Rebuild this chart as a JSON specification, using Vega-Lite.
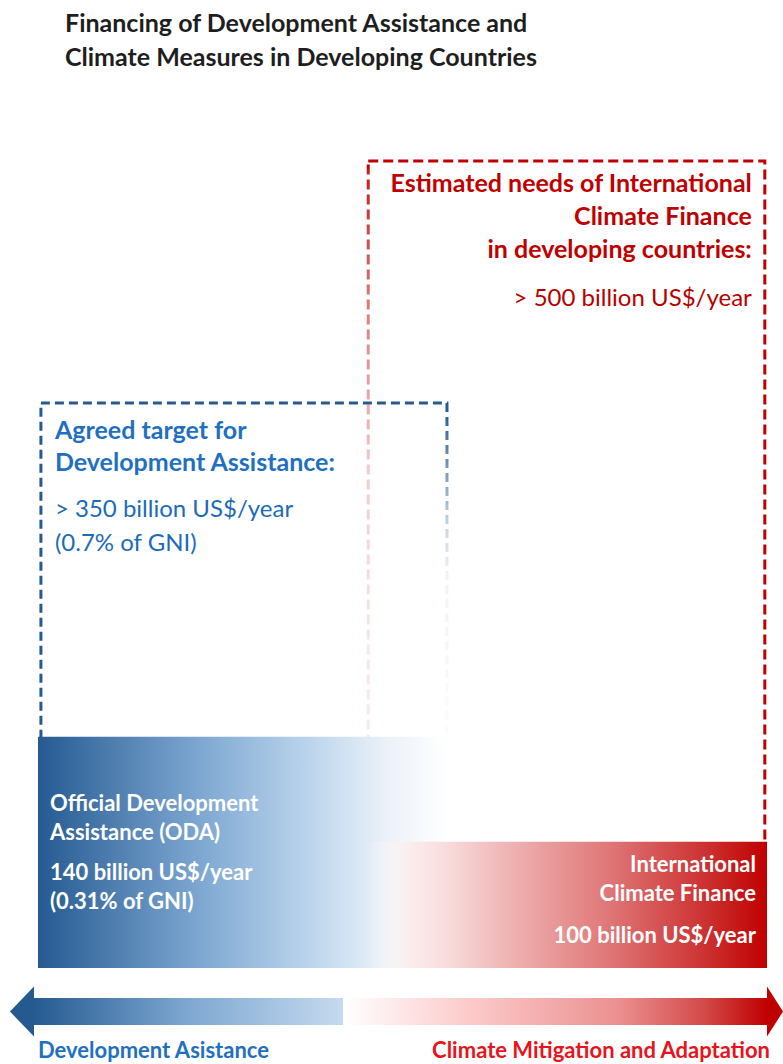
{
  "$schema": "https://vega.github.io/schema/vega-lite/v6.json",
  "width": 729,
  "height": 807,
  "autosize": {"type": "none"},
  "padding": {"left": 38, "right": 16, "top": 161, "bottom": 96},
  "background": "#ffffff",
  "config": {"view": {"stroke": null}, "text": {"font": "Lato"}},
  "title": {
    "text": ["Financing of Development Assistance and", "Climate Measures in Developing Countries"],
    "anchor": "start",
    "frame": "group",
    "orient": "top",
    "offset": 89,
    "dx": 27,
    "font": "Lato",
    "fontSize": 25,
    "fontWeight": "bold",
    "color": "#1e1e1e",
    "lineHeight": 34
  },
  "datasets": {
    "boxes": [
      {"box": "Agreed target for Development Assistance", "heading": "Agreed target for\nDevelopment Assistance:", "amount": "> 350 billion US$/year\n(0.7% of GNI)", "level": 350, "current": 142, "start": 0.004, "end": 0.561},
      {"box": "Estimated needs of International Climate Finance", "heading": "Estimated needs of International\nClimate Finance\nin developing countries:", "amount": "> 500 billion US$/year", "level": 500, "current": 77, "start": 0.453, "end": 0.997}
    ],
    "bars": [
      {"bar": "Official Development Assistance (ODA)", "heading": "Official Development\nAssistance (ODA)", "amount": "140 billion US$/year\n(0.31% of GNI)", "level": 142, "start": 0, "end": 0.56},
      {"bar": "International Climate Finance", "heading": "International\nClimate Finance", "amount": "100 billion US$/year", "level": 77, "start": 0.45, "end": 1}
    ],
    "arrows": [
      {"side": "Development Asistance", "start": -0.0055, "end": 0.4184},
      {"side": "Climate Mitigation and Adaptation", "start": 0.4184, "end": 1}
    ]
  },
  "layer": [
    {
      "data": {"name": "boxes"},
      "transform": [{"filter": "datum.level == 500"}],
      "mark": {"type": "rect", "filled": false, "color": "#c00000", "strokeWidth": 3, "strokeDash": [10, 5]},
      "encoding": {
        "x": {"field": "start", "type": "quantitative", "axis": null, "scale": {"domain": [0, 1], "nice": false, "zero": false}},
        "x2": {"field": "end"},
        "y": {"field": "level", "type": "quantitative", "axis": null, "scale": {"domain": [0, 500], "nice": false, "zero": false}},
        "y2": {"field": "current"}
      }
    },
    {
      "data": {"name": "boxes"},
      "transform": [{"filter": "datum.level == 500"}],
      "mark": {
        "type": "rect", "xOffset": -7, "x2Offset": 7, "yOffset": 8, "y2Offset": 3,
        "color": {"gradient": "linear", "x1": 0, "y1": 0, "x2": 0, "y2": 1, "stops": [
          {"offset": 0, "color": "rgba(255,255,255,0.1)"},
          {"offset": 0.22, "color": "rgba(255,255,255,0.5)"},
          {"offset": 0.45, "color": "rgba(255,255,255,0.8)"},
          {"offset": 0.7, "color": "rgba(255,255,255,0.9)"},
          {"offset": 1, "color": "rgba(255,255,255,0.92)"}
        ]}
      },
      "encoding": {
        "x": {"field": "start", "type": "quantitative", "axis": null, "scale": {"domain": [0, 1], "nice": false, "zero": false}},
        "x2": {"field": "start"},
        "y": {"field": "level", "type": "quantitative", "axis": null, "scale": {"domain": [0, 500], "nice": false, "zero": false}},
        "y2": {"field": "current"}
      }
    },
    {
      "data": {"name": "boxes"},
      "transform": [{"filter": "datum.level == 350"}],
      "mark": {"type": "rect", "filled": false, "color": "#275b8f", "strokeWidth": 3, "strokeDash": [9, 5]},
      "encoding": {
        "x": {"field": "start", "type": "quantitative", "axis": null, "scale": {"domain": [0, 1], "nice": false, "zero": false}},
        "x2": {"field": "end"},
        "y": {"field": "level", "type": "quantitative", "axis": null, "scale": {"domain": [0, 500], "nice": false, "zero": false}},
        "y2": {"field": "current"}
      }
    },
    {
      "data": {"name": "boxes"},
      "transform": [{"filter": "datum.level == 350"}],
      "mark": {
        "type": "rect", "xOffset": -7, "x2Offset": 7, "yOffset": 8, "y2Offset": 3,
        "color": {"gradient": "linear", "x1": 0, "y1": 0, "x2": 0, "y2": 1, "stops": [
          {"offset": 0, "color": "rgba(255,255,255,0)"},
          {"offset": 0.14, "color": "rgba(255,255,255,0.3)"},
          {"offset": 0.35, "color": "rgba(255,255,255,0.75)"},
          {"offset": 0.5, "color": "rgba(255,255,255,0.93)"},
          {"offset": 1, "color": "rgba(255,255,255,0.98)"}
        ]}
      },
      "encoding": {
        "x": {"field": "end", "type": "quantitative", "axis": null, "scale": {"domain": [0, 1], "nice": false, "zero": false}},
        "x2": {"field": "end"},
        "y": {"field": "level", "type": "quantitative", "axis": null, "scale": {"domain": [0, 500], "nice": false, "zero": false}},
        "y2": {"field": "current"}
      }
    },
    {
      "data": {"name": "bars"},
      "transform": [{"filter": "datum.level == 142"}],
      "mark": {
        "type": "rect", "yOffset": -2,
        "color": {"gradient": "linear", "x1": 0, "y1": 0, "x2": 1, "y2": 0, "stops": [
          {"offset": 0, "color": "#255a91"},
          {"offset": 0.4, "color": "#7ea8d2"},
          {"offset": 0.65, "color": "#b8d2eb"},
          {"offset": 0.85, "color": "#eaf1f9"},
          {"offset": 1, "color": "#ffffff"}
        ]}
      },
      "encoding": {
        "x": {"field": "start", "type": "quantitative", "axis": null, "scale": {"domain": [0, 1], "nice": false, "zero": false}},
        "x2": {"field": "end"},
        "y": {"field": "level", "type": "quantitative", "axis": null, "scale": {"domain": [0, 500], "nice": false, "zero": false}},
        "y2": {"datum": 0}
      }
    },
    {
      "data": {"name": "bars"},
      "transform": [{"filter": "datum.level == 77"}],
      "mark": {
        "type": "rect", "yOffset": -2,
        "color": {"gradient": "linear", "x1": 0, "y1": 0, "x2": 1, "y2": 0, "stops": [
          {"offset": 0, "color": "rgba(255,255,255,0)"},
          {"offset": 0.12, "color": "rgba(251,234,234,0.95)"},
          {"offset": 0.2, "color": "#f8dcdc"},
          {"offset": 0.35, "color": "#efb5b5"},
          {"offset": 0.6, "color": "#e07878"},
          {"offset": 0.85, "color": "#cc3030"},
          {"offset": 1, "color": "#c00000"}
        ]}
      },
      "encoding": {
        "x": {"field": "start", "type": "quantitative", "axis": null, "scale": {"domain": [0, 1], "nice": false, "zero": false}},
        "x2": {"field": "end"},
        "y": {"field": "level", "type": "quantitative", "axis": null, "scale": {"domain": [0, 500], "nice": false, "zero": false}},
        "y2": {"datum": 0}
      }
    },
    {
      "data": {"name": "boxes"},
      "transform": [{"filter": "datum.level == 350"}],
      "mark": {"type": "text", "align": "left", "baseline": "alphabetic", "dx": 14, "dy": 36, "lineBreak": "\n", "lineHeight": 32, "font": "Lato", "fontSize": 25, "fontWeight": "bold", "color": "#1f70c0"},
      "encoding": {
        "x": {"field": "start", "type": "quantitative", "axis": null, "scale": {"domain": [0, 1], "nice": false, "zero": false}},
        "y": {"field": "level", "type": "quantitative", "axis": null, "scale": {"domain": [0, 500], "nice": false, "zero": false}},
        "text": {"field": "heading"}
      }
    },
    {
      "data": {"name": "boxes"},
      "transform": [{"filter": "datum.level == 350"}],
      "mark": {"type": "text", "align": "left", "baseline": "alphabetic", "dx": 14, "dy": 114, "lineBreak": "\n", "lineHeight": 34, "font": "Lato", "fontSize": 24, "fontWeight": "normal", "color": "#1d6bb8"},
      "encoding": {
        "x": {"field": "start", "type": "quantitative", "axis": null, "scale": {"domain": [0, 1], "nice": false, "zero": false}},
        "y": {"field": "level", "type": "quantitative", "axis": null, "scale": {"domain": [0, 500], "nice": false, "zero": false}},
        "text": {"field": "amount"}
      }
    },
    {
      "data": {"name": "boxes"},
      "transform": [{"filter": "datum.level == 500"}],
      "mark": {"type": "text", "align": "right", "baseline": "alphabetic", "dx": -13, "dy": 31, "lineBreak": "\n", "lineHeight": 33, "font": "Lato", "fontSize": 25, "fontWeight": "bold", "color": "#c00000"},
      "encoding": {
        "x": {"field": "end", "type": "quantitative", "axis": null, "scale": {"domain": [0, 1], "nice": false, "zero": false}},
        "y": {"field": "level", "type": "quantitative", "axis": null, "scale": {"domain": [0, 500], "nice": false, "zero": false}},
        "text": {"field": "heading"}
      }
    },
    {
      "data": {"name": "boxes"},
      "transform": [{"filter": "datum.level == 500"}],
      "mark": {"type": "text", "align": "right", "baseline": "alphabetic", "dx": -13, "dy": 145, "lineBreak": "\n", "lineHeight": 33, "font": "Lato", "fontSize": 24, "fontWeight": "normal", "color": "#b80000"},
      "encoding": {
        "x": {"field": "end", "type": "quantitative", "axis": null, "scale": {"domain": [0, 1], "nice": false, "zero": false}},
        "y": {"field": "level", "type": "quantitative", "axis": null, "scale": {"domain": [0, 500], "nice": false, "zero": false}},
        "text": {"field": "amount"}
      }
    },
    {
      "data": {"name": "bars"},
      "transform": [{"filter": "datum.level == 142"}],
      "mark": {"type": "text", "align": "left", "baseline": "alphabetic", "dx": 12, "dy": 72, "lineBreak": "\n", "lineHeight": 29, "font": "Lato", "fontSize": 22, "fontWeight": "bold", "color": "#ffffff"},
      "encoding": {
        "x": {"field": "start", "type": "quantitative", "axis": null, "scale": {"domain": [0, 1], "nice": false, "zero": false}},
        "y": {"field": "level", "type": "quantitative", "axis": null, "scale": {"domain": [0, 500], "nice": false, "zero": false}},
        "text": {"field": "heading"}
      }
    },
    {
      "data": {"name": "bars"},
      "transform": [{"filter": "datum.level == 142"}],
      "mark": {"type": "text", "align": "left", "baseline": "alphabetic", "dx": 12, "dy": 141, "lineBreak": "\n", "lineHeight": 29, "font": "Lato", "fontSize": 22, "fontWeight": "bold", "color": "#ffffff"},
      "encoding": {
        "x": {"field": "start", "type": "quantitative", "axis": null, "scale": {"domain": [0, 1], "nice": false, "zero": false}},
        "y": {"field": "level", "type": "quantitative", "axis": null, "scale": {"domain": [0, 500], "nice": false, "zero": false}},
        "text": {"field": "amount"}
      }
    },
    {
      "data": {"name": "bars"},
      "transform": [{"filter": "datum.level == 77"}],
      "mark": {"type": "text", "align": "right", "baseline": "alphabetic", "dx": -11, "dy": 28, "lineBreak": "\n", "lineHeight": 29, "font": "Lato", "fontSize": 22, "fontWeight": "bold", "color": "#ffffff"},
      "encoding": {
        "x": {"field": "end", "type": "quantitative", "axis": null, "scale": {"domain": [0, 1], "nice": false, "zero": false}},
        "y": {"field": "level", "type": "quantitative", "axis": null, "scale": {"domain": [0, 500], "nice": false, "zero": false}},
        "text": {"field": "heading"}
      }
    },
    {
      "data": {"name": "bars"},
      "transform": [{"filter": "datum.level == 77"}],
      "mark": {"type": "text", "align": "right", "baseline": "alphabetic", "dx": -11, "dy": 99, "lineBreak": "\n", "lineHeight": 29, "font": "Lato", "fontSize": 22, "fontWeight": "bold", "color": "#ffffff"},
      "encoding": {
        "x": {"field": "end", "type": "quantitative", "axis": null, "scale": {"domain": [0, 1], "nice": false, "zero": false}},
        "y": {"field": "level", "type": "quantitative", "axis": null, "scale": {"domain": [0, 500], "nice": false, "zero": false}},
        "text": {"field": "amount"}
      }
    },
    {
      "data": {"name": "arrows"},
      "transform": [{"filter": "datum.start < 0"}],
      "mark": {
        "type": "rect",
        "color": {"gradient": "linear", "x1": 0, "y1": 0, "x2": 1, "y2": 0, "stops": [
          {"offset": 0, "color": "#255a91"},
          {"offset": 0.5, "color": "#7ea8d2"},
          {"offset": 1, "color": "#c6daef"}
        ]}
      },
      "encoding": {
        "x": {"field": "start", "type": "quantitative", "axis": null, "scale": {"domain": [0, 1], "nice": false, "zero": false}},
        "x2": {"field": "end"},
        "y": {"datum": -18.6, "type": "quantitative", "axis": null, "scale": {"domain": [0, 500], "nice": false, "zero": false}},
        "y2": {"datum": -35.3}
      }
    },
    {
      "data": {"name": "arrows"},
      "transform": [{"filter": "datum.start > 0"}],
      "mark": {
        "type": "rect",
        "color": {"gradient": "linear", "x1": 0, "y1": 0, "x2": 1, "y2": 0, "stops": [
          {"offset": 0, "color": "#ffffff"},
          {"offset": 0.3, "color": "#fccaca"},
          {"offset": 0.65, "color": "#eb9090"},
          {"offset": 0.85, "color": "#d44a4a"},
          {"offset": 1, "color": "#c00000"}
        ]}
      },
      "encoding": {
        "x": {"field": "start", "type": "quantitative", "axis": null, "scale": {"domain": [0, 1], "nice": false, "zero": false}},
        "x2": {"field": "end"},
        "y": {"datum": -18.6, "type": "quantitative", "axis": null, "scale": {"domain": [0, 500], "nice": false, "zero": false}},
        "y2": {"datum": -35.3}
      }
    },
    {
      "data": {"name": "arrows"},
      "transform": [{"filter": "datum.start < 0"}],
      "mark": {"type": "point", "filled": true, "opacity": 1, "strokeWidth": 0, "color": "#255a91", "size": 2500, "shape": "M -0.96,0 L 0,-1 L 0,1 Z"},
      "encoding": {
        "x": {"field": "start", "type": "quantitative", "axis": null, "scale": {"domain": [0, 1], "nice": false, "zero": false}},
        "y": {"datum": -27, "type": "quantitative", "axis": null, "scale": {"domain": [0, 500], "nice": false, "zero": false}}
      }
    },
    {
      "data": {"name": "arrows"},
      "transform": [{"filter": "datum.start > 0"}],
      "mark": {"type": "point", "filled": true, "opacity": 1, "strokeWidth": 0, "color": "#c00000", "size": 2500, "shape": "M 0.64,0 L 0,-1 L 0,1 Z"},
      "encoding": {
        "x": {"field": "end", "type": "quantitative", "axis": null, "scale": {"domain": [0, 1], "nice": false, "zero": false}},
        "y": {"datum": -27, "type": "quantitative", "axis": null, "scale": {"domain": [0, 500], "nice": false, "zero": false}}
      }
    },
    {
      "data": {"name": "arrows"},
      "transform": [{"filter": "datum.start < 0"}],
      "mark": {"type": "text", "align": "left", "baseline": "alphabetic", "dx": 4, "font": "Lato", "fontSize": 22, "fontWeight": "bold", "color": "#1f70c0"},
      "encoding": {
        "x": {"field": "start", "type": "quantitative", "axis": null, "scale": {"domain": [0, 1], "nice": false, "zero": false}},
        "y": {"datum": -55.8, "type": "quantitative", "axis": null, "scale": {"domain": [0, 500], "nice": false, "zero": false}},
        "text": {"field": "side"}
      }
    },
    {
      "data": {"name": "arrows"},
      "transform": [{"filter": "datum.start > 0"}],
      "mark": {"type": "text", "align": "right", "baseline": "alphabetic", "dx": 3, "font": "Lato", "fontSize": 22, "fontWeight": "bold", "color": "#e8141b"},
      "encoding": {
        "x": {"field": "end", "type": "quantitative", "axis": null, "scale": {"domain": [0, 1], "nice": false, "zero": false}},
        "y": {"datum": -55.8, "type": "quantitative", "axis": null, "scale": {"domain": [0, 500], "nice": false, "zero": false}},
        "text": {"field": "side"}
      }
    }
  ]
}
